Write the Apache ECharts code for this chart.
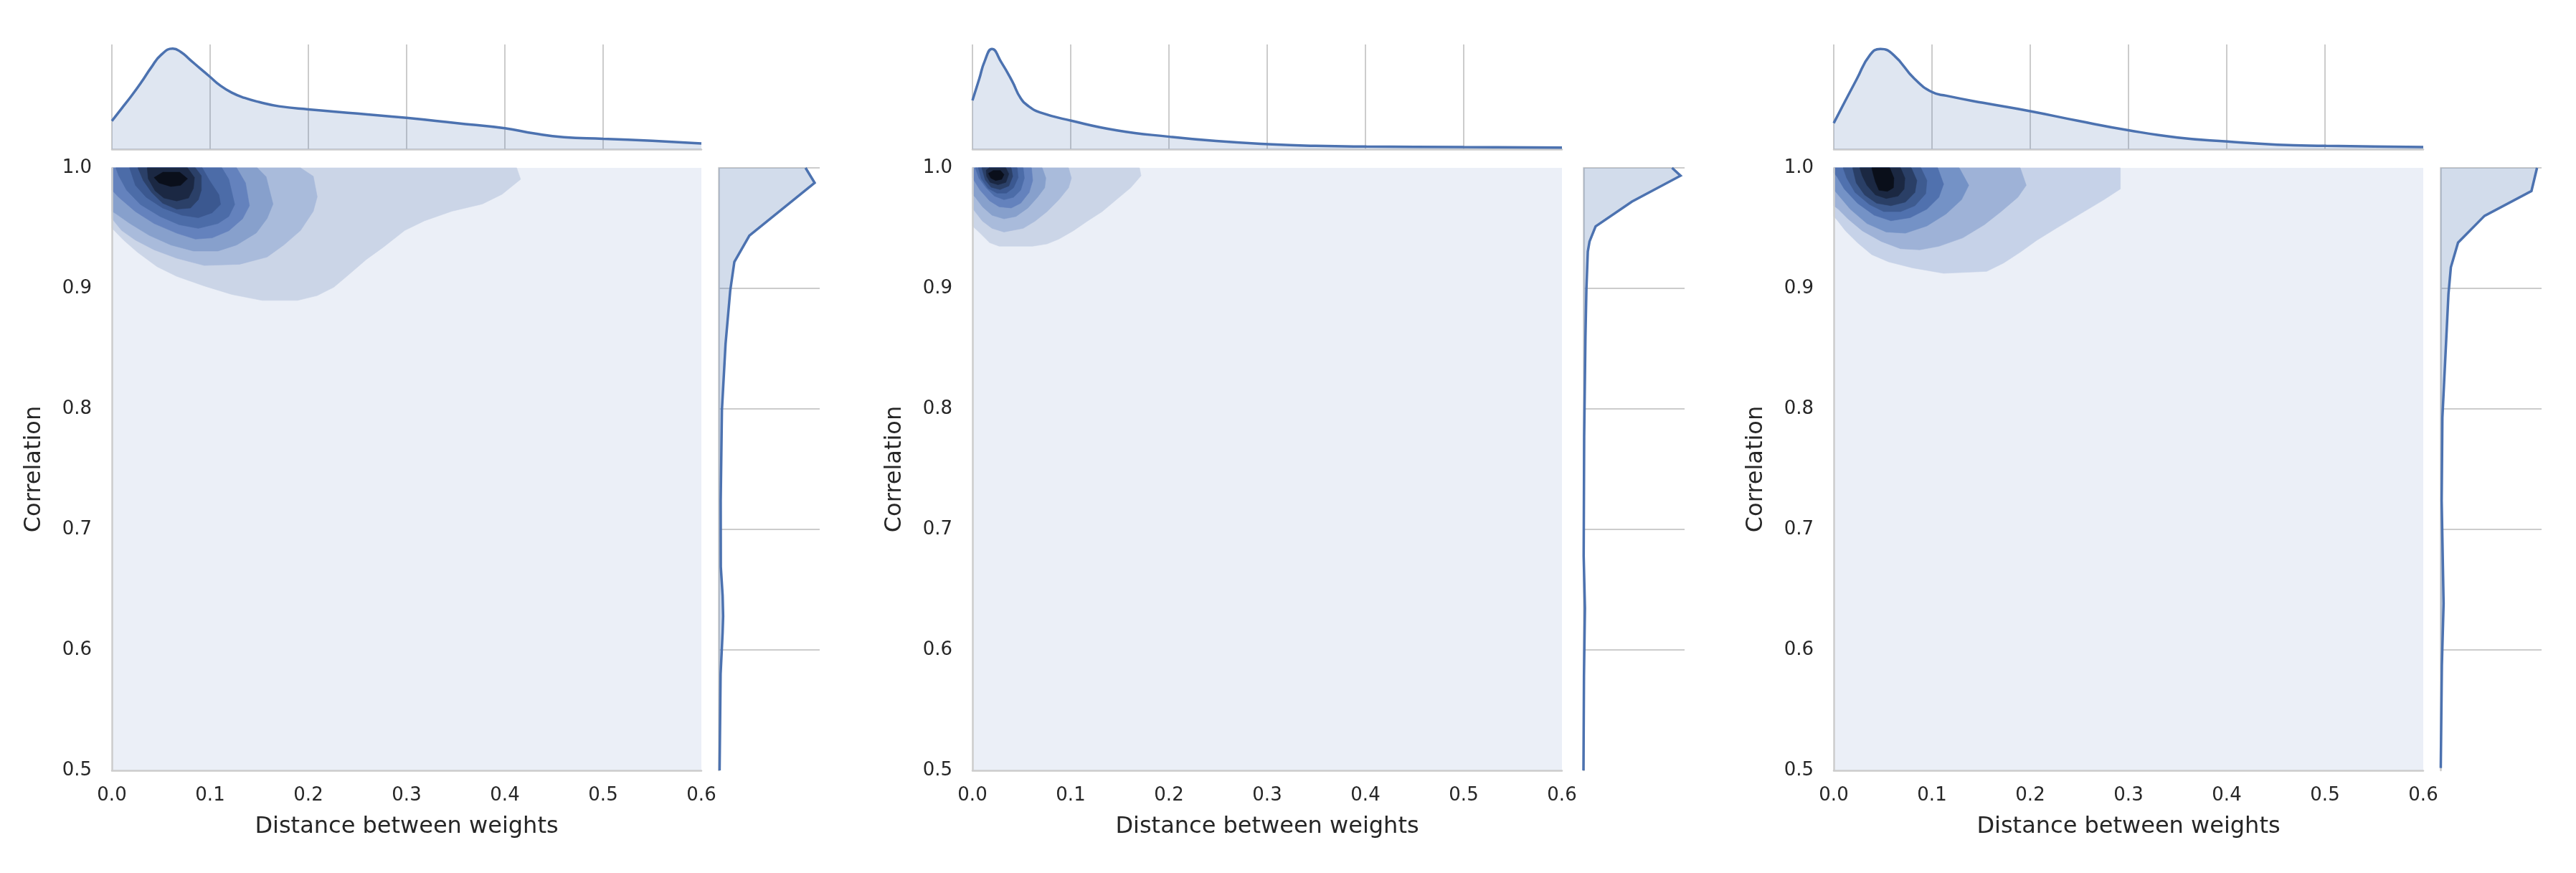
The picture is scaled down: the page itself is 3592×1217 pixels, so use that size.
<!DOCTYPE html>
<html>
<head>
<meta charset="utf-8">
<title>Distance vs correlation</title>
<script src="https://cdn.jsdelivr.net/npm/echarts@6/dist/echarts.min.js"></script>
<style>
  html, body { margin: 0; padding: 0; background: #fff; }
  #chart { width: 3592px; height: 1217px; }
</style>
</head>
<body>
<div id="chart"></div>
<script>
// axes
var xRange = [0, 0.6];
var yRange = [0.5, 1.0];
var tickStep = 0.1;
var xTitle = "Distance between weights";
var yTitle = "Correlation";

// ---- panel 1: filled kde contour bands (outer -> inner), [distance, correlation]
var p1Levels = [
  [[0,1],[0.412,1],[0.416,0.9905],[0.397,0.978],[0.377,0.970],[0.346,0.964],[0.318,0.956],[0.298,0.948],[0.276,0.934],[0.259,0.924],[0.242,0.912],[0.226,0.901],[0.209,0.894],[0.189,0.890],[0.153,0.890],[0.122,0.895],[0.094,0.902],[0.066,0.910],[0.046,0.918],[0.026,0.930],[0.012,0.940],[0,0.950]],
  [[0,1],[0.192,1],[0.205,0.993],[0.209,0.976],[0.205,0.964],[0.192,0.948],[0.175,0.936],[0.158,0.926],[0.130,0.920],[0.094,0.919],[0.066,0.925],[0.043,0.932],[0.024,0.940],[0.010,0.948],[0,0.958]],
  [[0,1],[0.148,1],[0.157,0.9925],[0.164,0.970],[0.158,0.958],[0.147,0.946],[0.127,0.936],[0.108,0.931],[0.083,0.931],[0.060,0.936],[0.038,0.944],[0.018,0.954],[0.004,0.962],[0,0.964]],
  [[0,1],[0.127,1],[0.136,0.9875],[0.140,0.9686],[0.133,0.9577],[0.119,0.9478],[0.102,0.9419],[0.085,0.9409],[0.066,0.9458],[0.043,0.9538],[0.024,0.9637],[0.007,0.9756],[0,0.9815]],
  [[0.004,1],[0.112,1],[0.119,0.9905],[0.125,0.9696],[0.119,0.9597],[0.108,0.9538],[0.088,0.9498],[0.0685,0.9528],[0.049,0.9597],[0.029,0.9696],[0.015,0.9815],[0.007,0.9935]],
  [[0.018,1],[0.092,1],[0.0994,0.9895],[0.109,0.9776],[0.1106,0.9696],[0.102,0.9627],[0.088,0.9587],[0.0713,0.9607],[0.0517,0.9667],[0.0349,0.9756],[0.024,0.9855]],
  [[0.0265,1],[0.085,1],[0.091,0.9935],[0.091,0.9815],[0.088,0.9736],[0.080,0.9667],[0.066,0.9657],[0.0517,0.9707],[0.0405,0.9796],[0.032,0.9895]],
  [[0.036,1],[0.077,1],[0.084,0.992],[0.083,0.983],[0.078,0.975],[0.066,0.9725],[0.053,0.975],[0.044,0.981],[0.037,0.991]],
  [[0.043,0.992],[0.052,0.9964],[0.069,0.9964],[0.077,0.991],[0.070,0.9855],[0.060,0.9845],[0.048,0.9875]]
];
// marginal densities (scaled to the marginal axes)
var p1TopX = [0, 0.01, 0.02, 0.03, 0.04, 0.05, 0.062, 0.07, 0.08, 0.09, 0.1, 0.11, 0.122, 0.135, 0.15, 0.17, 0.2, 0.25, 0.3, 0.35, 0.4, 0.43, 0.46, 0.5, 0.55, 0.6];
var p1TopD = [0.27, 0.39, 0.51, 0.64, 0.78, 0.90, 0.96, 0.93, 0.85, 0.77, 0.69, 0.61, 0.54, 0.49, 0.45, 0.41, 0.38, 0.34, 0.30, 0.25, 0.20, 0.15, 0.115, 0.10, 0.08, 0.055];
var p1RightY = [1.0, 0.9876, 0.9438, 0.922, 0.898, 0.854, 0.799, 0.724, 0.669, 0.645, 0.628, 0.6145, 0.58, 0.5];
var p1RightD = [0.86, 0.95, 0.305, 0.156, 0.115, 0.069, 0.033, 0.021, 0.022, 0.04, 0.045, 0.04, 0.02, 0.01];

// ---- panel 2
var p2Levels = [
  [[0,1],[0.170,1],[0.1716,0.9935],[0.161,0.9835],[0.1465,0.9736],[0.132,0.9637],[0.117,0.9558],[0.1027,0.9478],[0.088,0.9409],[0.0759,0.9369],[0.0613,0.935],[0.0272,0.935],[0.0175,0.9379],[0.0078,0.9458],[0,0.9518]],
  [[0,1],[0.0978,1],[0.1007,0.9915],[0.0978,0.9835],[0.088,0.9736],[0.0759,0.9637],[0.0637,0.9558],[0.0516,0.9498],[0.0321,0.9468],[0.0199,0.9498],[0.0102,0.9558],[0.0017,0.9647],[0,0.966]],
  [[0,1],[0.071,1],[0.0747,0.9915],[0.0735,0.9835],[0.0662,0.9756],[0.0564,0.9667],[0.0443,0.9597],[0.0321,0.9577],[0.0199,0.9607],[0.0102,0.9677],[0.0029,0.9756],[0,0.978]],
  [[0,1],[0.0601,1],[0.0613,0.9895],[0.0577,0.9796],[0.0491,0.9707],[0.0394,0.9667],[0.0272,0.9677],[0.0175,0.9726],[0.0078,0.9815],[0.0017,0.9895],[0,0.992]],
  [[0.0029,1],[0.0516,1],[0.0528,0.9915],[0.0491,0.9815],[0.0418,0.9756],[0.0321,0.9736],[0.0224,0.9766],[0.0139,0.9835],[0.0066,0.9915]],
  [[0.006,1],[0.0455,1],[0.0465,0.992],[0.0418,0.9835],[0.0345,0.979],[0.025,0.979],[0.016,0.983],[0.009,0.991]],
  [[0.0095,1],[0.0394,1],[0.041,0.993],[0.037,0.985],[0.028,0.982],[0.019,0.984],[0.013,0.990]],
  [[0.0139,0.998],[0.017,1],[0.034,1],[0.037,0.995],[0.034,0.988],[0.026,0.986],[0.018,0.988],[0.0145,0.993]],
  [[0.0163,0.9954],[0.0212,0.9978],[0.0285,0.9978],[0.0321,0.9944],[0.0297,0.9905],[0.0236,0.9895],[0.0187,0.9915]]
];
var p2TopX = [0, 0.0069, 0.0125, 0.0198, 0.0293, 0.0405, 0.049, 0.0574, 0.0686, 0.1006, 0.147, 0.2006, 0.248, 0.301, 0.349, 0.401, 0.5, 0.6];
var p2TopD = [0.466, 0.671, 0.842, 0.957, 0.831, 0.648, 0.488, 0.409, 0.352, 0.272, 0.18, 0.119, 0.078, 0.048, 0.032, 0.025, 0.02, 0.016];
var p2RightY = [1.0, 0.9935, 0.972, 0.9514, 0.9389, 0.9306, 0.899, 0.8595, 0.777, 0.678, 0.6346, 0.5786, 0.5];
var p2RightD = [0.876, 0.96, 0.48, 0.12, 0.06, 0.043, 0.029, 0.0195, 0.007, 0.002, 0.0145, 0.005, 0.0];

// ---- panel 3
var p3Levels = [
  [[0,1],[0.2917,1],[0.2917,0.9825],[0.2751,0.9736],[0.2507,0.9617],[0.2264,0.9498],[0.2069,0.94],[0.1898,0.93],[0.1728,0.921],[0.1557,0.9141],[0.1118,0.9125],[0.0802,0.917],[0.0558,0.922],[0.0387,0.928],[0.0241,0.9379],[0.0119,0.9478],[0.0034,0.9567],[0,0.9597]],
  [[0,1],[0.1898,1],[0.1959,0.9855],[0.1874,0.9756],[0.1703,0.9637],[0.1533,0.9528],[0.1313,0.9419],[0.107,0.9349],[0.0875,0.932],[0.068,0.9329],[0.0485,0.9389],[0.029,0.9478],[0.0144,0.9577],[0.0046,0.9657],[0,0.9686]],
  [[0,1],[0.1277,1],[0.1374,0.9855],[0.1301,0.9736],[0.1143,0.9617],[0.0948,0.9518],[0.0729,0.9458],[0.0534,0.9468],[0.0338,0.9538],[0.0168,0.9657],[0.0046,0.9776],[0,0.982]],
  [[0,1],[0.1058,1],[0.1118,0.9865],[0.107,0.9756],[0.0948,0.9657],[0.0777,0.9587],[0.0582,0.9561],[0.0412,0.9607],[0.0241,0.9707],[0.0107,0.9825],[0.0034,0.9925],[0,0.996]],
  [[0.0095,1],[0.0887,1],[0.0948,0.9895],[0.0936,0.9786],[0.0826,0.9686],[0.068,0.9637],[0.0509,0.9637],[0.0363,0.9696],[0.0217,0.9796],[0.0132,0.9915]],
  [[0.0192,1],[0.0789,1],[0.0846,0.9895],[0.0826,0.9796],[0.0729,0.9716],[0.0582,0.9686],[0.0436,0.9707],[0.0314,0.9776],[0.0229,0.9875]],
  [[0.0265,1],[0.068,1],[0.0724,0.9915],[0.0716,0.9825],[0.0655,0.9766],[0.0534,0.9746],[0.0424,0.9776],[0.0338,0.9855],[0.029,0.9935]],
  [[0.0387,1],[0.057,1],[0.0612,0.9915],[0.0607,0.9835],[0.0546,0.9805],[0.046,0.9815],[0.0424,0.9885],[0.04,0.9954]]
];
var p3TopX = [0, 0.0235, 0.0369, 0.0475, 0.0609, 0.0823, 0.1, 0.1144, 0.1519, 0.2, 0.2482, 0.3007, 0.3499, 0.4007, 0.4515, 0.5013, 0.55, 0.6];
var p3TopD = [0.249, 0.671, 0.9, 0.957, 0.9, 0.671, 0.546, 0.511, 0.443, 0.363, 0.272, 0.18, 0.112, 0.073, 0.043, 0.032, 0.026, 0.021];
var p3RightY = [1.0, 0.9808, 0.9602, 0.938, 0.9175, 0.8952, 0.8336, 0.7926, 0.724, 0.6385, 0.5871, 0.502];
var p3RightD = [0.955, 0.90, 0.436, 0.174, 0.103, 0.079, 0.043, 0.019, 0.012, 0.031, 0.014, 0.003];

var FONT = "DejaVu Sans";
var TEXT = "#262626";
var SPINE = "#cccccc";
var LINE = "#4c72b0";
var SHADE = "rgba(76,114,176,0.25)";
var BG = "#ebeff7";
var colors9 = ["#cbd5e7", "#a9bbdb", "#87a0cc", "#6482bd", "#4c6ca8", "#3b5890", "#2b4068", "#1b2843", "#0a0f1b"];
var colors8 = ["#c6d2e8", "#9eb2d7", "#7492c6", "#5071ae", "#3e5b90", "#2a3f66", "#1b2842", "#0a0f1a"];

var panels = [
  { left: 156, right: 1002, levels: p1Levels, colors: colors9, topX: p1TopX, topD: p1TopD, rY: p1RightY, rD: p1RightD },
  { left: 1356, right: 2208, levels: p2Levels, colors: colors9, topX: p2TopX, topD: p2TopD, rY: p2RightY, rD: p2RightD },
  { left: 2557, right: 3403, levels: p3Levels, colors: colors8, topX: p3TopX, topD: p3TopD, rY: p3RightY, rD: p3RightD }
];

function fmt(v) { return v.toFixed(1); }

var grid = [], xAxis = [], yAxis = [], series = [];

panels.forEach(function (p, i) {
  var g = i * 3;
  grid.push({ left: p.left, top: 234, width: 822, height: 840, show: true, backgroundColor: BG, borderWidth: 0 });
  grid.push({ left: p.left, top: 62, width: 822, height: 146 });
  grid.push({ left: p.right, top: 234, width: 141, height: 840 });

  // main
  xAxis.push({
    gridIndex: g, type: "value", min: xRange[0], max: xRange[1], interval: tickStep, z: 5,
    name: xTitle, nameLocation: "middle", nameGap: 63,
    nameTextStyle: { fontFamily: FONT, fontSize: 32, color: TEXT },
    axisLine: { show: true, onZero: false, lineStyle: { color: SPINE, width: 2.5 } },
    axisTick: { show: false },
    axisLabel: { fontFamily: FONT, fontSize: 26, color: TEXT, margin: 22, formatter: fmt, showMinLabel: true, showMaxLabel: true },
    splitLine: { show: false }
  });
  yAxis.push({
    gridIndex: g, type: "value", min: yRange[0], max: yRange[1], interval: tickStep, z: 5,
    name: yTitle, nameLocation: "middle", nameGap: 92,
    nameTextStyle: { fontFamily: FONT, fontSize: 32, color: TEXT },
    axisLine: { show: true, onZero: false, lineStyle: { color: SPINE, width: 2.5 } },
    axisTick: { show: false },
    axisLabel: { fontFamily: FONT, fontSize: 26, color: TEXT, margin: 28, formatter: fmt, showMinLabel: true, showMaxLabel: true },
    splitLine: { show: false }
  });
  // top marginal
  xAxis.push({
    gridIndex: g + 1, type: "value", min: xRange[0], max: xRange[1], interval: tickStep,
    axisLine: { show: true, onZero: false, lineStyle: { color: SPINE, width: 2.5 } },
    axisTick: { show: false }, axisLabel: { show: false },
    splitLine: { show: true, showMaxLine: false, lineStyle: { color: SPINE, width: 2 } }
  });
  yAxis.push({ gridIndex: g + 1, type: "value", min: 0, max: 1, show: false });
  // right marginal
  xAxis.push({ gridIndex: g + 2, type: "value", min: 0, max: 1, show: false });
  yAxis.push({
    gridIndex: g + 2, type: "value", min: yRange[0], max: yRange[1], interval: tickStep,
    axisLine: { show: true, onZero: false, lineStyle: { color: SPINE, width: 2.5 } },
    axisTick: { show: false }, axisLabel: { show: false },
    splitLine: { show: true, showMinLine: false, lineStyle: { color: SPINE, width: 2 } }
  });

  // contour bands
  series.push({
    type: "custom", xAxisIndex: g, yAxisIndex: g, silent: true,
    data: p.levels.map(function (poly, k) { return [poly[0][0], poly[0][1], k]; }),
    renderItem: function (params, api) {
      var k = api.value(2);
      var pts = p.levels[k].map(function (pt) { return api.coord(pt); });
      return {
        type: "polygon",
        shape: { points: pts },
        style: { fill: p.colors[k], stroke: p.colors[k], lineWidth: 0.6 }
      };
    }
  });

  // top marginal kde
  series.push({
    type: "line", xAxisIndex: g + 1, yAxisIndex: g + 1, silent: true,
    data: p.topX.map(function (x, j) { return [x, p.topD[j]]; }),
    smooth: 0.5, showSymbol: false, symbol: "none",
    lineStyle: { color: LINE, width: 3.5 },
    areaStyle: { color: SHADE }
  });

  // right marginal kde (filled toward the left axis)
  series.push({
    type: "custom", xAxisIndex: g + 2, yAxisIndex: g + 2, silent: true,
    data: [[0, yRange[0]]],
    renderItem: function (params, api) {
      var pts = p.rY.map(function (y, j) { return api.coord([p.rD[j], y]); });
      var n = p.rY.length;
      var fillPts = pts.concat([api.coord([0, p.rY[n - 1]]), api.coord([0, p.rY[0]])]);
      return {
        type: "group",
        children: [
          { type: "polygon", shape: { points: fillPts }, style: { fill: SHADE } },
          { type: "polyline", shape: { points: pts }, style: { fill: "none", stroke: LINE, lineWidth: 3.5 } }
        ]
      };
    }
  });
});

var chart = echarts.init(document.getElementById("chart"));
chart.setOption({
  backgroundColor: "#ffffff",
  animation: false,
  grid: grid,
  xAxis: xAxis,
  yAxis: yAxis,
  series: series
});
</script>
</body>
</html>
